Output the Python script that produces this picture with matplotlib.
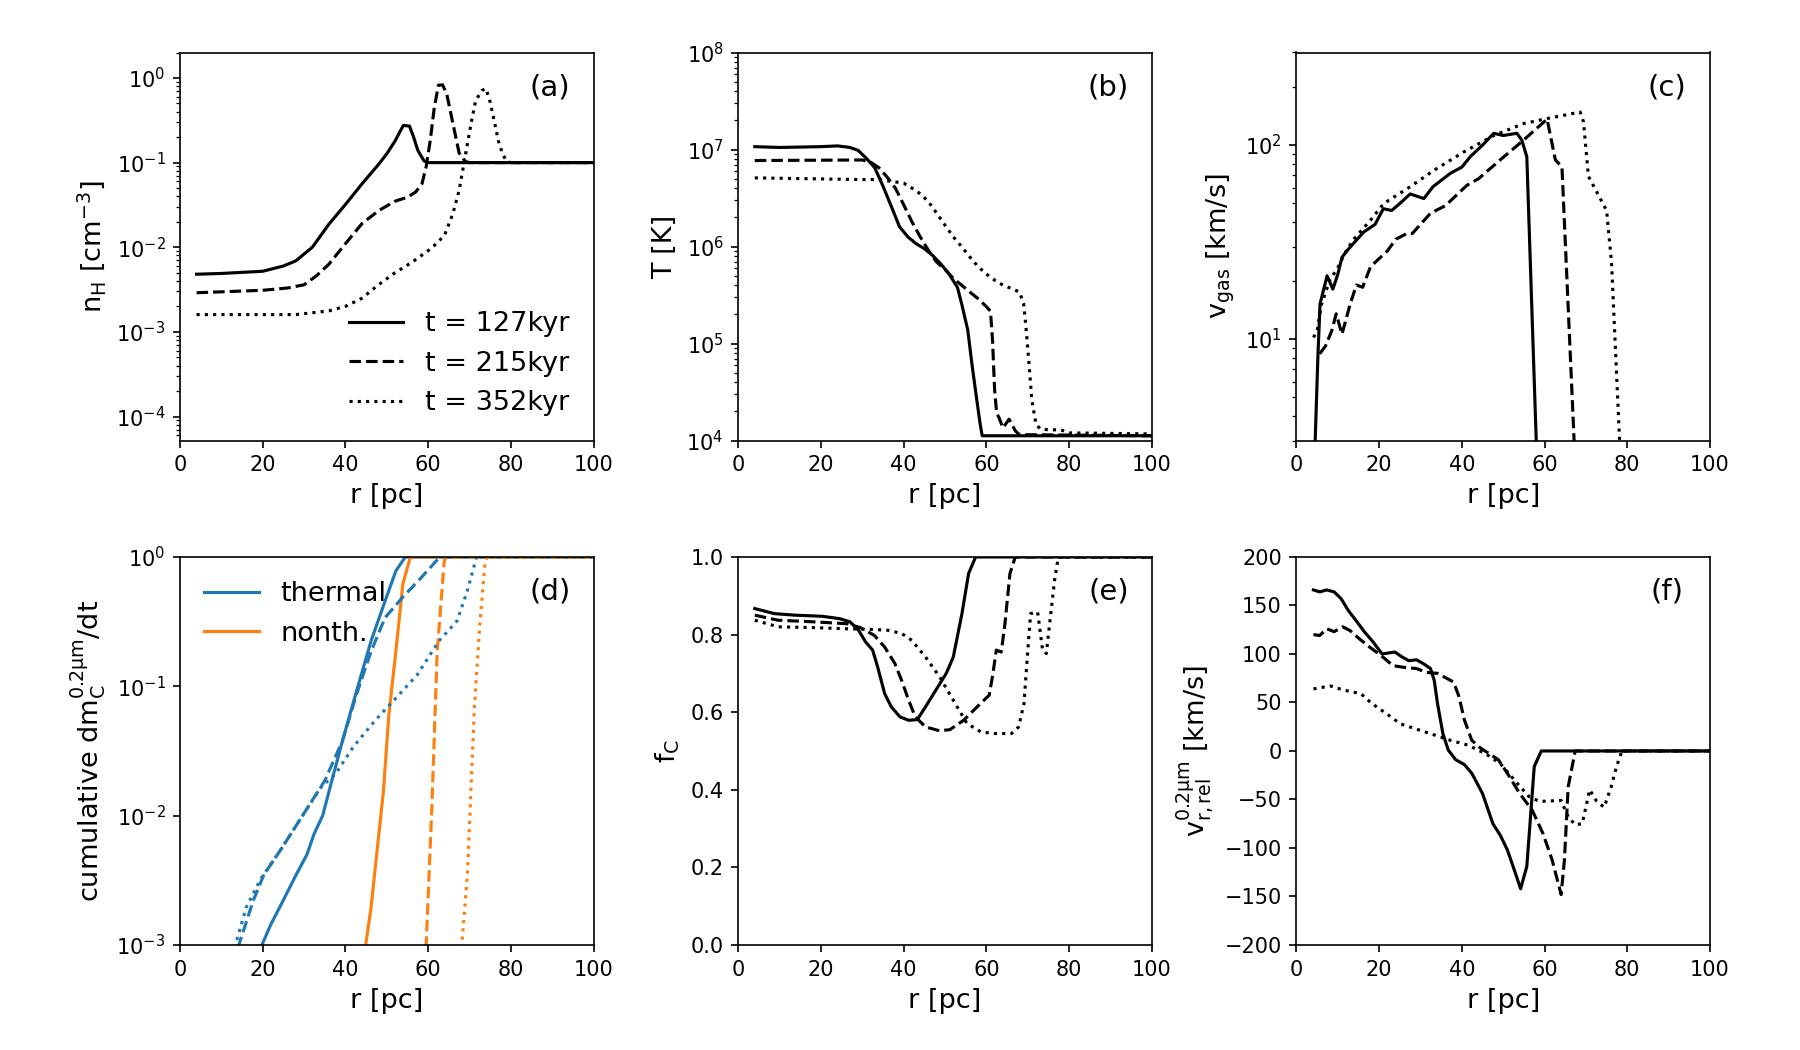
import numpy as np
import matplotlib
matplotlib.use('Agg')
import matplotlib.pyplot as plt
from matplotlib.ticker import NullLocator

# 시간 라벨
times = ['t = 127kyr', 't = 215kyr', 't = 352kyr']
styles = ['-', '--', ':']

# (a) 수소 밀도
r_a1 = [4, 10, 20, 25, 28, 32, 36, 40, 44, 48, 50, 52, 54, 55.5, 56.5, 57.5, 59, 60, 100]
n_a1 = [0.0048, 0.0049, 0.0052, 0.006, 0.0069, 0.01, 0.0187, 0.032, 0.056, 0.095, 0.127, 0.18,
        0.275, 0.27, 0.2, 0.14, 0.105, 0.1, 0.1]
r_a2 = [4, 20, 26, 30, 33, 36, 40, 44, 48, 52, 55, 57, 58.5, 59.5, 60.5, 61.5, 62.5, 63.5, 64.5,
        66, 67.5, 69, 70, 100]
n_a2 = [0.0029, 0.0031, 0.0033, 0.0036, 0.0046, 0.0063, 0.011, 0.019, 0.027, 0.035, 0.039, 0.045,
        0.056, 0.088, 0.18, 0.45, 0.82, 0.83, 0.65, 0.29, 0.13, 0.103, 0.1, 0.1]
r_a3 = [4, 28, 36, 40, 44, 48, 52, 56, 60, 62, 64, 66, 67.5, 68.5, 69.5, 70.5, 71.5, 73, 74, 75,
        76, 77, 78, 79, 80, 100]
n_a3 = [0.0016, 0.0016, 0.00177, 0.002, 0.0025, 0.0036, 0.005, 0.0066, 0.0091, 0.011, 0.014,
        0.025, 0.047, 0.088, 0.166, 0.31, 0.54, 0.71, 0.75, 0.52, 0.31, 0.18, 0.127, 0.103, 0.1, 0.1]

# (b) 온도
r_b1 = [4, 10, 20, 24, 27, 29, 31, 33, 35, 37, 39, 41, 43, 45, 47, 49, 51, 53, 54, 55.5, 56.5,
        57.5, 58.5, 59, 100]
T_b1 = [1.07e7, 1.05e7, 1.07e7, 1.09e7, 1.05e7, 9.8e6, 8.1e6, 6.5e6, 4.2e6, 2.6e6, 1.6e6, 1.26e6,
        1.07e6, 9.5e5, 8.1e5, 6.6e5, 5.2e5, 3.8e5, 2.6e5, 1.38e5, 6.2e4, 3.0e4, 1.48e4, 1.12e4, 1.12e4]
r_b2 = [4, 30, 32, 34, 36, 38, 40, 42, 44, 46, 48, 50, 52, 54, 56, 58, 60, 61, 61.5, 62, 62.5,
        63, 64, 65.5, 67, 68, 100]
T_b2 = [7.7e6, 7.8e6, 7.4e6, 6.5e6, 5.2e6, 4.0e6, 2.7e6, 1.8e6, 1.26e6, 9.1e5, 6.9e5, 5.8e5,
        4.7e5, 4.0e5, 3.4e5, 2.9e5, 2.4e5, 2.15e5, 1.07e5, 3.3e4, 1.9e4, 1.75e4, 1.35e4, 1.66e4,
        1.26e4, 1.15e4, 1.12e4]
r_b3 = [4, 30, 34, 37, 40, 42, 44, 46, 48, 50, 52, 54, 56, 58, 60, 62, 64, 66, 68, 69, 69.5, 70,
        70.5, 71, 72, 73, 75, 78, 80, 100]
T_b3 = [5.1e6, 4.9e6, 4.9e6, 4.7e6, 4.5e6, 4.0e6, 3.5e6, 2.9e6, 2.2e6, 1.66e6, 1.26e6, 1.0e6,
        7.8e5, 6.2e5, 5.2e5, 4.5e5, 4.0e5, 3.7e5, 3.4e5, 2.6e5, 1.6e5, 9.1e4, 4.9e4, 2.6e4, 1.48e4,
        1.32e4, 1.29e4, 1.29e4, 1.2e4, 1.17e4]

# (c) 가스 속도
r_c1 = [4.4, 5.2, 5.7, 7.4, 8.8, 10, 11, 12.5, 14, 16.3, 19, 21, 23, 25, 27.5, 30.8, 33, 37.2,
        40, 42, 45, 47.7, 50, 53.3, 54.5, 55.7, 58.1]
v_c1 = [2.5, 8.4, 15.2, 21.2, 18.1, 21.6, 26.4, 29, 31.5, 35.7, 39, 47, 46, 50, 56, 53, 61, 71.5,
        77, 87, 100, 115, 112, 115, 106, 87, 2.5]
r_c2 = [5.6, 7, 8.5, 9.6, 11, 13, 14.5, 16, 17.9, 20, 22, 24, 26.7, 28, 32.4, 36, 41.2, 44, 49.3,
        54.9, 60.6, 62.6, 64.2, 67.3]
v_c2 = [8.4, 9.2, 11, 13.5, 10.6, 15.2, 19, 18.5, 23.6, 26, 28.5, 32.7, 35, 35, 44.5, 48.7, 62,
        67, 84, 106, 136, 84, 77, 2.5]
r_c3 = [4.1, 5, 6, 8, 10, 12, 14, 17.9, 21.1, 27.5, 33.2, 40.4, 47.7, 54.9, 60.6, 68.6, 69.4,
        70.6, 75.0, 76.2, 78.3]
v_c3 = [10.2, 11, 15, 20, 23.4, 28.5, 33, 41, 50, 61, 74, 92, 112, 129, 137, 148, 132, 69, 46,
        24.6, 2.5]

# (d) 누적 파괴율 (thermal / nonthermal)
r_d_th = [[19.5, 22.0, 24.6, 28.1, 30.7, 32.4, 34.5, 36.3, 39.3, 42.7, 46.2, 49.6, 52.2, 54.4, 55, 100],
          [14.0, 17.7, 20.3, 24.6, 29.8, 35.0, 39.3, 42.7, 46.2, 49.6, 53.9, 58.3, 62.2, 63, 100],
          [13.2, 16.0, 19.4, 24.6, 29.8, 34.1, 37.6, 41.9, 47.1, 52.2, 57.4, 62.6, 67.0, 69.5, 71.2, 71.7, 100]]
c_d_th = [[9.5e-4, 1.45e-3, 2.1e-3, 3.5e-3, 5.0e-3, 7.2e-3, 1.0e-2, 1.66e-2, 3.8e-2, 9.2e-2, 0.224,
           0.457, 0.78, 0.99, 1.0, 1.0],
          [9.5e-4, 2.2e-3, 3.5e-3, 5.6e-3, 1.02e-2, 1.86e-2, 3.8e-2, 8.7e-2, 0.186, 0.34, 0.49,
           0.69, 0.95, 1.0, 1.0],
          [9.5e-4, 1.95e-3, 3.2e-3, 5.6e-3, 1.02e-2, 1.66e-2, 2.1e-2, 3.4e-2, 5.4e-2, 8.1e-2,
           0.123, 0.224, 0.32, 0.55, 0.87, 1.0, 1.0]]
r_d_nt = [[44.8, 46.2, 47.5, 49.2, 50.5, 52.2, 53.9, 55.7, 100],
          [59.5, 60.9, 62.2, 63.9, 64.3, 100],
          [68.1, 69.5, 71.2, 72.5, 73.8, 74.3, 100]]
c_d_nt = [[9.5e-4, 1.95e-3, 4.8e-3, 1.55e-2, 6.0e-2, 0.186, 0.62, 1.0, 1.0],
          [9.5e-4, 1.15e-2, 0.186, 0.93, 1.0, 1.0],
          [9.5e-4, 3.5e-3, 6.9e-2, 0.3, 0.93, 1.0, 1.0]]

# (e) 탄소 비율
r_e1 = [4.0, 8.7, 13.7, 20.4, 24.5, 27.0, 29.1, 30.8, 32.5, 33.7, 35.4, 37.0, 39.1, 41.2, 43.3,
        45.3, 47.8, 50.3, 52.0, 54.1, 55.7, 57.4, 100]
f_e1 = [0.867, 0.854, 0.85, 0.847, 0.841, 0.833, 0.811, 0.781, 0.76, 0.717, 0.648, 0.614, 0.588,
        0.579, 0.581, 0.614, 0.657, 0.7, 0.742, 0.854, 0.957, 1.0, 1.0]
r_e2 = [4.0, 9.6, 17.9, 26.2, 29.5, 32.9, 35.4, 37.9, 39.5, 41.2, 42.8, 45.3, 48.7, 51.2, 54.5,
        57.8, 60.7, 61.6, 62.4, 63.6, 64.5, 65.7, 67.0, 100]
f_e2 = [0.85, 0.837, 0.833, 0.828, 0.818, 0.798, 0.768, 0.725, 0.682, 0.631, 0.588, 0.562, 0.552,
        0.555, 0.579, 0.614, 0.644, 0.7, 0.76, 0.755, 0.828, 0.957, 1.0, 1.0]
r_e3 = [4.0, 9.6, 17.9, 26.2, 32.9, 36.2, 39.5, 42.0, 45.3, 48.7, 52.0, 55.3, 58.7, 62.0, 66.1,
        67.8, 69.1, 69.9, 70.7, 72.4, 73.6, 74.5, 75.3, 76.5, 77.4, 100]
f_e3 = [0.837, 0.82, 0.818, 0.815, 0.813, 0.811, 0.803, 0.785, 0.742, 0.691, 0.631, 0.571, 0.549,
        0.545, 0.545, 0.562, 0.622, 0.742, 0.854, 0.858, 0.76, 0.751, 0.828, 0.94, 1.0, 1.0]

# (f) 상대 속도
r_f1 = [4.1, 5.6, 7.3, 9.1, 10.8, 12.5, 14.3, 16.4, 18.6, 20.7, 23.8, 25.5, 27.2, 29.0, 30.7,
        32.4, 33.3, 34.1, 35.4, 36.7, 38.5, 40.6, 42.4, 45.0, 47.5, 49.3, 51.0, 52.7, 54.2, 55.7,
        57.5, 59.2, 100]
v_f1 = [166, 164, 166, 164, 157, 145, 135, 123, 112, 100, 102, 97, 93, 94, 90, 85, 73, 49, 18, 1,
        -9, -14, -23, -44, -75, -87, -102, -123, -142, -119, -16, 0, 0]
r_f2 = [4.1, 5.6, 7.3, 9.1, 11.2, 13.0, 15.1, 17.7, 20.3, 23.3, 26.3, 29.0, 31.5, 34.1, 36.3,
        38.0, 39.3, 40.6, 42.4, 44.5, 46.7, 48.8, 51.0, 54.0, 57.0, 59.6, 61.8, 64.0, 64.8, 65.7,
        67.4, 100]
v_f2 = [120, 119, 126, 123, 128, 124, 116, 107, 99, 88, 86, 85, 81, 80, 75, 71, 56, 32, 11, 3, -3,
        -9, -23, -44, -61, -85, -112, -148, -112, -37, 0, 0]
r_f3 = [4.1, 8.2, 11.2, 15.6, 18.2, 21.6, 25.1, 29.4, 33.7, 37.2, 41.5, 45.8, 49.3, 52.7, 56.2,
        58.8, 64.0, 65.7, 67.4, 69.1, 70.9, 72.6, 74.4, 76.1, 77.4, 78.7, 100]
v_f3 = [64, 67, 63, 59, 49, 39, 28, 22, 16, 11, 6, -3, -13, -30, -47, -52, -51, -68, -76, -75,
        -40, -52, -58, -37, -16, 0, 0]

plt.rcParams['font.size'] = 10
fig, axes = plt.subplots(2, 3, figsize=(12, 7), dpi=150)
fig.subplots_adjust(left=0.1, right=0.95, bottom=0.1, top=0.95, wspace=0.35, hspace=0.3)
lw = 1.5
lab = 13

# (a)
ax = axes[0, 0]
for r, n, ls, t in zip([r_a1, r_a2, r_a3], [n_a1, n_a2, n_a3], styles, times):
    ax.plot(r, n, color='k', ls=ls, lw=lw, label=t)
ax.set_yscale('log')
ax.set_ylim(5.2e-5, 2)
ax.set_ylabel(r'n$_\mathrm{H}$ [cm$^{-3}$]', fontsize=lab)
ax.legend(loc='lower right', frameon=False, fontsize=13)

# (b)
ax = axes[0, 1]
for r, T, ls in zip([r_b1, r_b2, r_b3], [T_b1, T_b2, T_b3], styles):
    ax.plot(r, T, color='k', ls=ls, lw=lw)
ax.set_yscale('log')
ax.set_ylim(1e4, 1e8)
ax.set_ylabel('T [K]', fontsize=lab)

# (c)
ax = axes[0, 2]
for r, v, ls in zip([r_c1, r_c2, r_c3], [v_c1, v_c2, v_c3], styles):
    ax.plot(r, v, color='k', ls=ls, lw=lw)
ax.set_yscale('log')
ax.set_ylim(3, 300)
ax.set_ylabel(r'v$_\mathrm{gas}$ [km/s]', fontsize=lab)

# (d)
ax = axes[1, 0]
for i, ls in enumerate(styles):
    ax.plot(r_d_th[i], c_d_th[i], color='tab:blue', ls=ls, lw=lw,
            label='thermal' if i == 0 else None)
    ax.plot(r_d_nt[i], c_d_nt[i], color='tab:orange', ls=ls, lw=lw,
            label='nonth.' if i == 0 else None)
ax.set_yscale('log')
ax.set_ylim(1e-3, 1)
ax.yaxis.set_minor_locator(NullLocator())
ax.set_ylabel(r'cumulative dm$_\mathrm{C}^{0.2\mathrm{\mu m}}$/dt', fontsize=lab)
ax.legend(loc='upper left', frameon=False, fontsize=13)

# (e)
ax = axes[1, 1]
for r, f, ls in zip([r_e1, r_e2, r_e3], [f_e1, f_e2, f_e3], styles):
    ax.plot(r, f, color='k', ls=ls, lw=lw)
ax.set_ylim(0, 1)
ax.set_ylabel(r'f$_\mathrm{C}$', fontsize=lab)

# (f)
ax = axes[1, 2]
for r, v, ls in zip([r_f1, r_f2, r_f3], [v_f1, v_f2, v_f3], styles):
    ax.plot(r, v, color='k', ls=ls, lw=lw)
ax.set_ylim(-200, 200)
ax.set_ylabel(r'v$_\mathrm{r,rel}^{0.2\mathrm{\mu m}}$ [km/s]', fontsize=lab)

for ax, p in zip(axes.flat, 'abcdef'):
    ax.set_xlim(0, 100)
    ax.set_xlabel('r [pc]', fontsize=lab)
    ax.text(0.895, 0.91, '(%s)' % p, transform=ax.transAxes, ha='center', va='center', fontsize=14)

plt.savefig('out.png', dpi=150)
